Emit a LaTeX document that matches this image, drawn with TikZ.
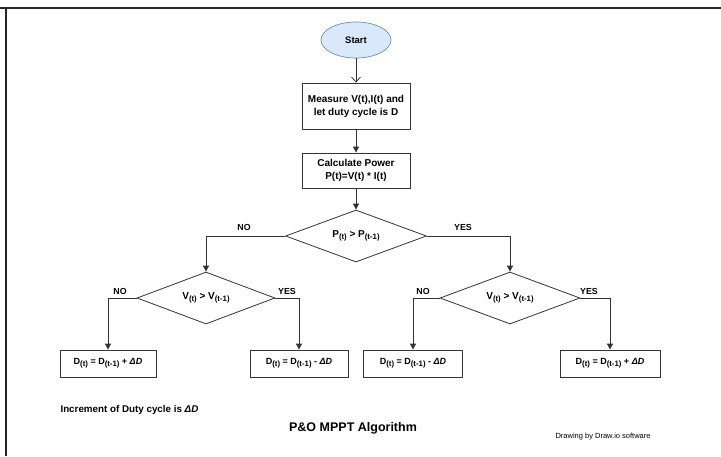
\documentclass[tikz,border=0pt]{standalone}
\usepackage{fontspec}
\setmainfont{Liberation Sans}
\usetikzlibrary{shapes.geometric,arrows.meta}
\definecolor{startfill}{HTML}{DAE8FC}
\definecolor{startline}{HTML}{6C8EBF}
\definecolor{ink}{HTML}{333333}
\newcommand\mysub[1]{\raisebox{-0.35ex}{\fontsize{7.8}{9}\selectfont\bfseries #1}}
\begin{document}
\begin{tikzpicture}[x=1pt,y=-1pt,
  every node/.style={font=\fontsize{10}{13}\selectfont\bfseries, text=black},
  startnode/.style={ellipse, draw=startline, fill=startfill, line width=0.7pt, minimum width=70pt, minimum height=36pt, inner sep=0pt},
  procbox/.style={rectangle, draw=ink, line width=0.8pt, align=center, inner sep=1pt},
  decide/.style={diamond, draw=ink, line width=0.8pt, aspect=2.7, inner sep=0pt},
  dbox/.style={procbox, minimum height=27pt, font=\fontsize{9}{11}\selectfont\bfseries},
  conn/.style={draw=ink, line width=0.8pt, -{Triangle[length=6pt,width=6pt]}},
  openconn/.style={draw=ink, line width=0.8pt, -{Straight Barb[length=5pt,width=9pt]}},
  lbl/.style={font=\fontsize{8.8}{10}\selectfont\bfseries},
  frameline/.style={draw=black!85, line width=1.8pt}
]
\useasboundingbox (0,0) rectangle (721,456);
\draw[frameline] (0,8) coordinate (ftl) -- (721,8) coordinate (ftr);
\draw[frameline] (6,8) coordinate (flt) -- (6,456) coordinate (flb);

\node[startnode] (start) at (356,40) {\fontsize{9.5}{11}\selectfont\bfseries Start};
\node[procbox, minimum width=108pt, minimum height=46pt] (measure) at (356,106) {Measure V(t),I(t) and\\let duty cycle is D};
\node[procbox, minimum width=108pt, minimum height=35pt] (calc) at (356,170.5) {Calculate Power\\P(t)=V(t) * I(t)};

\node[decide, minimum width=141pt, minimum height=52pt] (d1) at (356,236) {P\mysub{(t)} > P\mysub{(t-1)}};
\node[decide, minimum width=138pt, minimum height=52pt] (d2) at (206,298) {V\mysub{(t)} > V\mysub{(t-1)}};
\node[decide, minimum width=140pt, minimum height=52pt] (d3) at (510,298) {V\mysub{(t)} > V\mysub{(t-1)}};

\node[dbox, minimum width=96pt] (b1) at (108,363.5) {D\mysub{(t)} = D\mysub{(t-1)} + \textit{ΔD}};
\node[dbox, minimum width=98pt] (b2) at (299,363.5) {D\mysub{(t)} = D\mysub{(t-1)} - \textit{ΔD}};
\node[dbox, minimum width=99pt] (b3) at (413,363.5) {D\mysub{(t)} = D\mysub{(t-1)} - \textit{ΔD}};
\node[dbox, minimum width=100pt] (b4) at (610,363.5) {D\mysub{(t)} = D\mysub{(t-1)} + \textit{ΔD}};

\draw[openconn] (start) -- (measure);
\draw[conn] (measure) -- (calc);
\draw[conn] (calc) -- (d1);
\draw[conn] (d1.west) -| (d2.north);
\draw[conn] (d1.east) -| (d3.north);
\draw[conn] (d2.west) -| (b1.north);
\draw[conn] (d2.east) -| (b2.north);
\draw[conn] (d3.west) -| (b3.north);
\draw[conn] (d3.east) -| (b4.north);

\node[lbl] (l1) at (244,227) {NO};
\node[lbl] (l2) at (463,227) {YES};
\node[lbl] (l3) at (120,291) {NO};
\node[lbl] (l4) at (287,291) {YES};
\node[lbl] (l5) at (423,291) {NO};
\node[lbl] (l6) at (589,291) {YES};

\node[anchor=west, font=\fontsize{9.8}{11}\selectfont\bfseries] (note) at (57,410) {Increment of Duty cycle is \textit{ΔD}};
\node[font=\fontsize{12.5}{14}\selectfont\bfseries] (title) at (353,428) {P\&O MPPT Algorithm};
\node[anchor=west, font=\fontsize{7.5}{9}\selectfont] (credit) at (552,437) {Drawing by Draw.io software};
\end{tikzpicture}
\end{document}
